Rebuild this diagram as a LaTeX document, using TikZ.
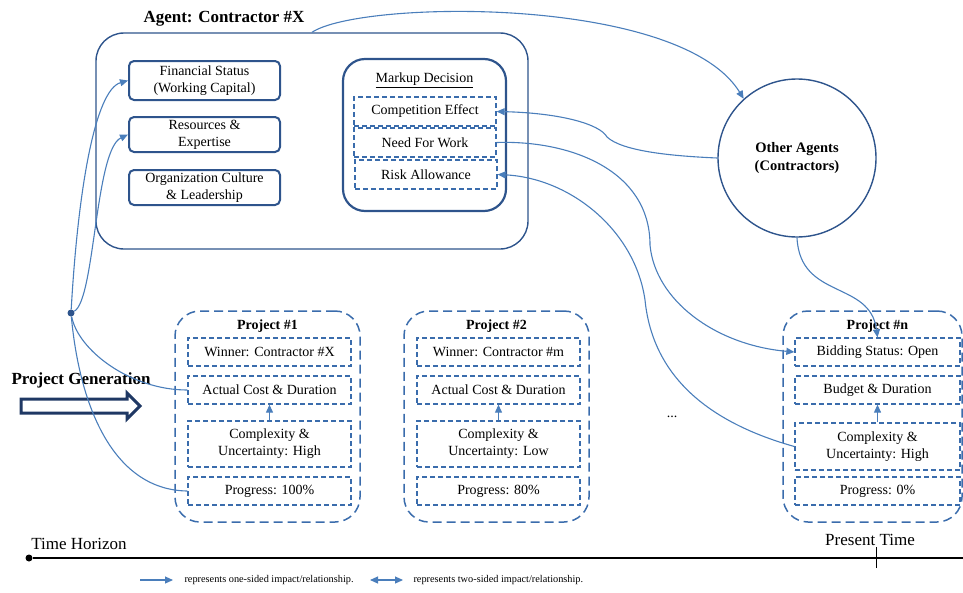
\documentclass[tikz,border=0pt]{standalone}
\usepackage{fontspec}
\setmainfont{Liberation Serif}
\usetikzlibrary{arrows.meta}

\definecolor{linkblue}{RGB}{74,126,187}
\definecolor{boxblue}{RGB}{46,84,140}
\definecolor{dashblue}{RGB}{58,108,172}
\definecolor{navy}{RGB}{31,56,100}

\begin{document}
\begin{tikzpicture}[x=1pt,y=-1pt,font=\fontsize{14}{17}\selectfont]
	\tikzstyle{agentbox}=[draw=boxblue,line width=1.4pt,rounded corners=28pt,minimum width=432pt,minimum height=216pt]
	\tikzstyle{factor}=[draw=boxblue,line width=2pt,rounded corners=5pt,minimum width=151pt,inner sep=0pt,align=center]
	\tikzstyle{markbox}=[draw=boxblue,line width=2.2pt,rounded corners=22pt,minimum width=163pt,minimum height=152pt]
	\tikzstyle{effect}=[draw=dashblue,line width=1.3pt,dash pattern=on 5pt off 3pt,minimum width=142pt,minimum height=29pt,inner sep=0pt]
	\tikzstyle{project}=[draw=dashblue,line width=1.5pt,dash pattern=on 9pt off 5pt,rounded corners=25pt,minimum height=211pt]
	\tikzstyle{item}=[draw=dashblue,line width=1.3pt,dash pattern=on 5pt off 3pt,inner sep=0pt,align=center]
	\tikzstyle{link}=[draw=linkblue,line width=1.1pt,-{Triangle[length=8pt,width=7pt]}]
	\tikzstyle{plain}=[draw=linkblue,line width=1.1pt]
	\tikzstyle{bold}=[font=\fontsize{14}{18}\selectfont\bfseries]

	\useasboundingbox (0,0) rectangle (963,592);

	% agent
	\node[agentbox](agent) at (312,141){};
	\node[font=\fontsize{17}{20}\selectfont\bfseries](agenttitle) at (224,19){Agent: Contractor \#X};

	\node[factor,minimum height=39pt](fin) at (204.5,80.5){Financial Status\\(Working Capital)};
	\node[factor,minimum height=35pt](res) at (204.5,134.5){Resources \&\\Expertise};
	\node[factor,minimum height=35pt](org) at (204.5,187.5){Organization Culture\\\& Leadership};

	\node[markbox](markup) at (424.5,135){};
	\node(marktitle) at (424.5,80){\underline{Markup Decision}};
	\node[effect](comp) at (425,111.5){Competition Effect};
	\node[effect](need) at (425,142.5){Need For Work};
	\node[effect](risk) at (426,174.5){Risk Allowance};

	% other contractors
	\node[draw=boxblue,line width=1.4pt,circle,minimum size=158pt,align=center,font=\fontsize{14.5}{18}\selectfont\bfseries](others) at (797,158){Other Agents\\(Contractors)};

	% projects
	\node[project,minimum width=185pt](p1) at (267.5,416.5){};
	\node[bold](p1title) at (267.5,326){Project \#1};
	\node[item,minimum width=163pt,minimum height=28pt](p1win) at (269.5,352){Winner: Contractor \#X};
	\node[item,minimum width=163pt,minimum height=28pt](p1cost) at (269.5,390){Actual Cost \& Duration};
	\node[item,minimum width=163pt,minimum height=46pt](p1cplx) at (269.5,444){Complexity \&\\Uncertainty: High};
	\node[item,minimum width=163pt,minimum height=28pt](p1prog) at (269.5,491){Progress: 100\%};

	\node[project,minimum width=185pt](p2) at (496.5,416.5){};
	\node[bold](p2title) at (496.5,326){Project \#2};
	\node[item,minimum width=163pt,minimum height=28pt](p2win) at (498.5,352){Winner: Contractor \#m};
	\node[item,minimum width=163pt,minimum height=28pt](p2cost) at (498.5,390){Actual Cost \& Duration};
	\node[item,minimum width=163pt,minimum height=46pt](p2cplx) at (498.5,444){Complexity \&\\Uncertainty: Low};
	\node[item,minimum width=163pt,minimum height=28pt](p2prog) at (498.5,491){Progress: 80\%};

	\node(dots) at (672,417){...};

	\node[project,minimum width=179pt](pn) at (872.5,416.5){};
	\node[bold](pntitle) at (877.5,326){Project \#n};
	\node[item,minimum width=165pt,minimum height=28pt](pnbid) at (877.5,352){Bidding Status: Open};
	\node[item,minimum width=165pt,minimum height=28pt](pnbudget) at (877.5,390){Budget \& Duration};
	\node[item,minimum width=165pt,minimum height=47pt](pncplx) at (877.5,446.5){Complexity \&\\Uncertainty: High};
	\node[item,minimum width=165pt,minimum height=28pt](pnprog) at (877.5,491){Progress: 0\%};

	\draw[link] (p1cplx) -- (p1cost);
	\draw[link] (p2cplx) -- (p2cost);
	\draw[link] (pncplx) -- (pnbudget);

	% project generation
	\node[font=\fontsize{17}{20}\selectfont\bfseries](gen) at (81,380){Project Generation};
	\draw[navy,line width=3pt,fill=white] (21,399) -- (127,399) -- (127,393) -- (140,406) -- (127,419) -- (127,413) -- (21,413) -- cycle;

	% links
	\node[circle,fill=boxblue,inner sep=0pt,minimum size=7pt](hub) at (71,313){};
	\draw[link] (hub) .. controls (78,190) and (95,90) .. (fin.west);
	\draw[link] (hub) .. controls (95,300) and (95,150) .. (res.west);
	\draw[plain] (p1cost.west) .. controls (130,390) and (78,350) .. (hub);
	\draw[plain] (p1prog.west) .. controls (115,490) and (80,410) .. (hub);

	\draw[link] (agent.north) .. controls (360,0) and (680,-5) .. (others.132);
	\draw[link] (others.west) .. controls (670,156) and (622,151) .. (607,137) .. controls (600,124) and (560,113) .. (comp.east);
	\draw[link] (need.east) .. controls (570,140) and (650,170) .. (650,245) .. controls (655,300) and (715,345) .. (pnbid.west);
	\draw[link] (pncplx.west) .. controls (700,420) and (652,370) .. (645,300) .. controls (635,230) and (570,178) .. (risk.east);
	\draw[link] (others.south) .. controls (800,300) and (870,280) .. (pnbid.north);

	% time line
	\node[circle,fill=black,inner sep=0pt,minimum size=7pt](tstart) at (29,558){};
	\coordinate(tend) at (963,558);
	\draw[line width=1.3pt] (tstart) -- (tend);
	\coordinate(now) at (876,558);
	\draw[line width=0.9pt] ([yshift=-10pt]now) -- ([yshift=11pt]now);
	\node[font=\fontsize{17}{20}\selectfont](horizon) at (79,544){Time Horizon};
	\node[font=\fontsize{17}{20}\selectfont](present) at (870,540){Present Time};

	% legend
	\coordinate(la) at (140,580);
	\coordinate(lb) at (173,580);
	\draw[link] (la) -- (lb);
	\node[anchor=west,font=\fontsize{10.3}{12}\selectfont](oneside) at (181,580){represents one-sided impact/relationship.};
	\coordinate(lc) at (370,580);
	\coordinate(ld) at (403,580);
	\draw[link,{Triangle[length=8pt,width=7pt]}-{Triangle[length=8pt,width=7pt]}] (lc) -- (ld);
	\node[anchor=west,font=\fontsize{10.3}{12}\selectfont](twoside) at (410,580){represents two-sided impact/relationship.};
\end{tikzpicture}
\end{document}
